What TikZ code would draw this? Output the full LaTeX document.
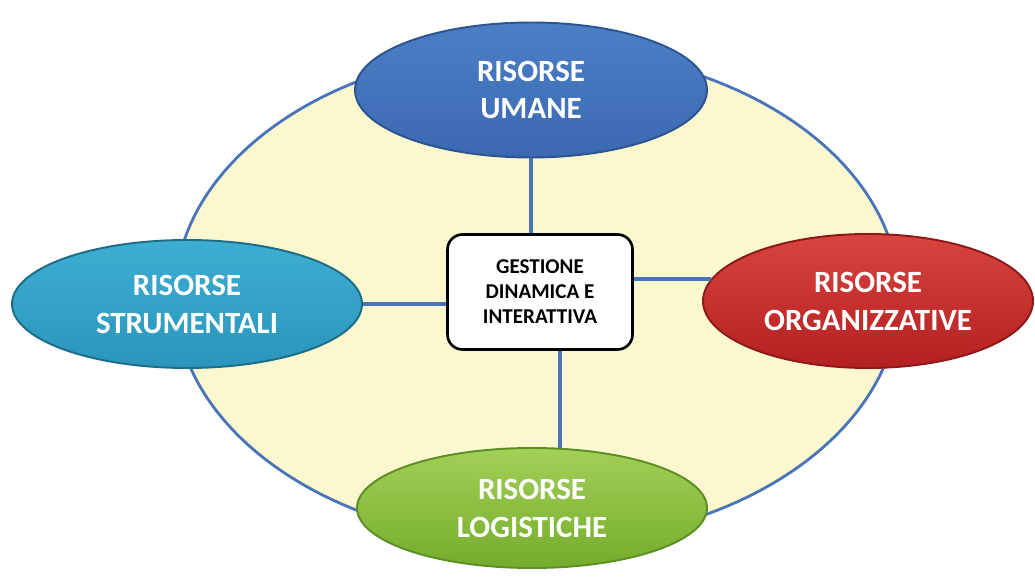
\documentclass[tikz,border=0pt]{standalone}
\usepackage{fontspec}
\setmainfont{Carlito}
\usetikzlibrary{shapes.geometric}

\definecolor{bordoblu}{HTML}{4A74BA}
\definecolor{giallino}{HTML}{FBF7CF}
\definecolor{blusu}{HTML}{4C7EC6}
\definecolor{blugiu}{HTML}{3B69B1}
\definecolor{blubordo}{HTML}{2D5391}
\definecolor{tealsu}{HTML}{3DAED1}
\definecolor{tealgiu}{HTML}{2B95BC}
\definecolor{tealbordo}{HTML}{1E6C88}
\definecolor{rossosu}{HTML}{D8443E}
\definecolor{rossogiu}{HTML}{B41F21}
\definecolor{rossobordo}{HTML}{8C1A1A}
\definecolor{verdesu}{HTML}{A3D057}
\definecolor{verdegiu}{HTML}{74AC2D}
\definecolor{verdebordo}{HTML}{5D8E24}

\begin{document}
\begin{tikzpicture}
   \tikzstyle{risorsa}=[ellipse, draw, line width=1.1pt, inner sep=0pt, text=white, align=center, font=\bfseries\fontsize{17.6}{21.6}\selectfont]
   \tikzstyle{collega}=[draw=bordoblu, line width=2.4pt]
   \useasboundingbox (0,0) rectangle (20.7,-11.56);

% campo di sfondo
\node[ellipse, draw=bordoblu, line width=1.6pt, fill=giallino, minimum width=14.48cm, minimum height=9.88cm] (campo) at (10.74,-5.92) {};

\node[risorsa, draw=blubordo, top color=blusu, bottom color=blugiu, minimum width=7.04cm, minimum height=2.7cm] (umane) at (10.62,-1.8) {RISORSE\\UMANE};
\node[risorsa, draw=tealbordo, top color=tealsu, bottom color=tealgiu, minimum width=7.0cm, minimum height=2.56cm] (strumentali) at (3.74,-6.08) {RISORSE\\STRUMENTALI};
\node[risorsa, draw=rossobordo, top color=rossosu, bottom color=rossogiu, minimum width=6.6cm, minimum height=2.68cm] (organizzative) at (17.36,-6.02) {RISORSE\\ORGANIZZATIVE};
\node[risorsa, draw=verdebordo, top color=verdesu, bottom color=verdegiu, minimum width=7.0cm, minimum height=2.4cm] (logistiche) at (10.64,-10.16) {RISORSE\\LOGISTICHE};

\node[draw=black, line width=1.5pt, fill=white, rounded corners=0.3cm, minimum width=3.7cm, minimum height=2.3cm, align=center, font=\bfseries\fontsize{12}{14.2}\selectfont] (gestione) at (10.8,-5.84) {GESTIONE\\DINAMICA E\\INTERATTIVA};

% collegamenti
\draw[collega] (umane.south) -- (umane.south |- gestione.north);
\draw[collega] (strumentali.east) -- (strumentali.east -| gestione.west);
\draw[collega] (organizzative.172) -- (organizzative.172 -| gestione.east);
\draw[collega] (logistiche.65) -- (logistiche.65 |- gestione.south);

\end{tikzpicture}
\end{document}
